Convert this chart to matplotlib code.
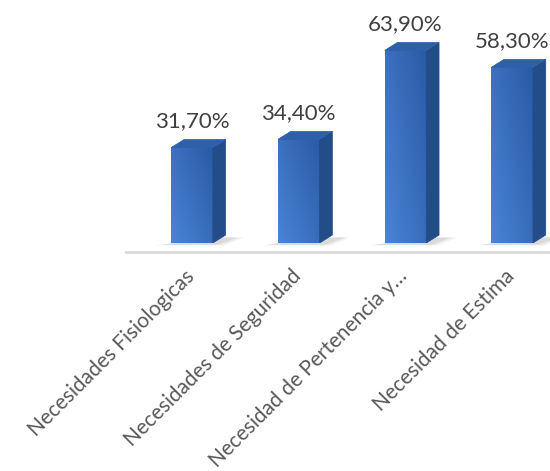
import numpy as np
import matplotlib.pyplot as plt
from matplotlib.patches import Polygon

categories = ['Necesidades Fisiologicas', 'Necesidades de Seguridad',
              'Necesidad de Pertenencia y\u2026', 'Necesidad de Estima']
values = [31.7, 34.4, 63.9, 58.3]
value_labels = ['31,70%', '34,40%', '63,90%', '58,30%']

plt.rcParams['font.family'] = ['Lato', 'DejaVu Sans']

fig = plt.figure(figsize=(5.5, 4.71), dpi=100)
ax = fig.add_axes([0, 0.484, 1, 0.48])
ax.set_xlim(-1.8, 3.355)
ax.set_ylim(0, 75)
ax.axis('off')

x = np.arange(len(values))
w = 0.39      # bar width
dx = 0.12     # depth in x (data units)
dy = 2.65     # depth in y (data units)

# floor line
ax.plot([-0.62, 3.4], [-3.0, -3.0], color='#d9d9d9', lw=2, clip_on=False)

bars = ax.bar(x, values, width=w, color='none', edgecolor='none')

# gradient for the front faces
gx = np.linspace(0, 1, 64)
gy = np.linspace(0, 1, 64)
GX, GY = np.meshgrid(gx, gy)
c_light = np.array([0x4a, 0x84, 0xd6]) / 255
c_dark = np.array([0x2a, 0x5a, 0xa6]) / 255
t = 0.55 * GX + 0.45 * GY
t = np.clip(t, 0, 1)[..., None]
grad = c_light * (1 - t) + c_dark * t

for xi, v, rect in zip(x, values, bars):
    left, right = xi - w / 2, xi + w / 2
    # soft shadow on the floor
    for k, a in enumerate([0.08, 0.10, 0.14]):
        s = 0.03 * (3 - k)
        ax.add_patch(Polygon([(left - 0.06 - s, -0.4 - s * 5), (right + 0.02 + s, -0.4 - s * 5),
                              (right + dx + 0.08 + s, dy * 0.7), (right, dy * 0.7)],
                             closed=True, color='#808080', alpha=a, lw=0,
                             clip_on=False, zorder=1))
    im = ax.imshow(grad, extent=[left, right, 0, v], origin='lower',
                   aspect='auto', zorder=3, interpolation='bilinear')
    im.set_clip_path(rect)
    # side face
    ax.add_patch(Polygon([(right, 0), (right + dx, dy), (right + dx, v + dy), (right, v)],
                         closed=True, facecolor='#224d89', edgecolor='#224d89',
                         lw=0.5, zorder=3))
    # top face
    ax.add_patch(Polygon([(left, v), (right, v), (right + dx, v + dy), (left + dx, v + dy)],
                         closed=True, facecolor='#2e60a9', edgecolor='#2e60a9',
                         lw=0.5, zorder=3))

ax.set_xlim(-1.8, 3.355)
ax.set_ylim(0, 75)

for xi, v, lab in zip(x, values, value_labels):
    ax.annotate(lab, (xi, v + dy), xytext=(0, 6), textcoords='offset points',
                ha='center', va='bottom', fontsize=16, color='#404040')

for xi, cat in zip(x, categories):
    ax.text(xi - 0.01, -10.0, cat, rotation=45, rotation_mode='anchor',
            ha='right', va='center', fontsize=15, color='#595959', clip_on=False)

fig.savefig('out.png', dpi=100)
